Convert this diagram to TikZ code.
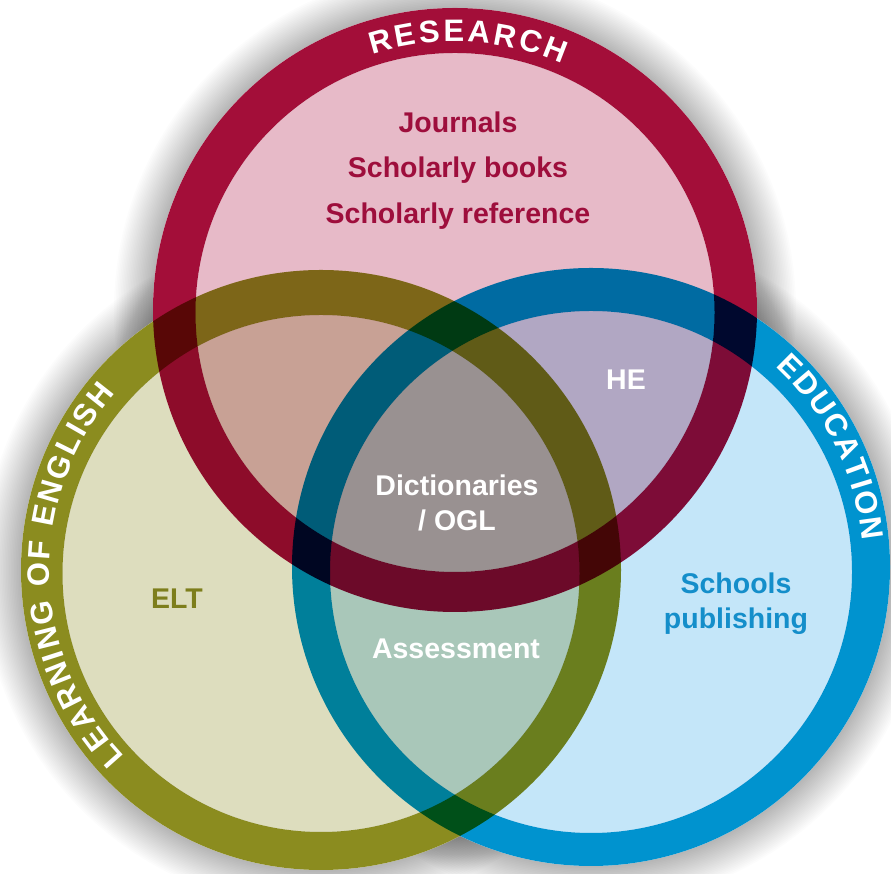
\documentclass[tikz,border=0pt]{standalone}
\usepackage{fontspec}
\setmainfont{Liberation Sans}
\usetikzlibrary{calc}
\definecolor{redring}{RGB}{163,14,57}
\definecolor{oliring}{RGB}{139,140,31}
\definecolor{bluring}{RGB}{0,147,207}
\definecolor{redin}{RGB}{231,186,200}
\definecolor{oliin}{RGB}{221,221,190}
\definecolor{bluin}{RGB}{196,230,249}
\definecolor{redtxt}{RGB}{158,14,60}
\definecolor{olitxt}{RGB}{125,126,28}
\definecolor{blutxt}{RGB}{20,142,202}
\newdimen\arcw \newdimen\arctot \newdimen\arcpos \newdimen\arcsp
% #1 centre, #2 radius, #3 centre angle, #4 list letter/width (per mille em)
\newcommand\arctext[4]{%
  \global\arctot=0pt\relax
  \foreach \ch/\w in {#4}{\arcw=\w pt\arcw=0.031\arcw\global\advance\arctot by\arcw\global\advance\arctot by\arcsp}%
  \global\advance\arctot by -\arcsp
  \pgfmathsetmacro\arcstart{#3+(\arctot/2)/(#2)*180/pi}%
  \global\arcpos=0pt\relax
  \foreach \ch/\w in {#4}{%
    \arcw=\w pt\arcw=0.031\arcw
    \pgfmathsetmacro\arcang{\arcstart-(\arcpos+\arcw/2)/(#2)*180/pi}%
    \node[arcletter, rotate=\arcang-90] at ($(#1)+(\arcang:#2pt)$) {\ch};%
    \global\advance\arcpos by\arcw\global\advance\arcpos by\arcsp}%
}
\begin{document}
\begin{tikzpicture}[x=1pt,y=1pt,
  arcletter/.style={inner sep=0pt, text=white, font=\fontsize{31}{33}\selectfont\bfseries},
  lbl/.style={inner sep=0pt, anchor=base, font=\fontsize{28.5}{34}\selectfont\bfseries}]
\useasboundingbox (0,0) rectangle (891,874);
\fill[white] (0,0) rectangle (891,874);
% centres
\coordinate (cr) at (455,564);
\coordinate (cri) at (455,561.5);
\coordinate (co) at (321,304);
\coordinate (coi) at (321,300.5);
\coordinate (cb) at (591,307);
\coordinate (cbi) at (591,302);
% soft shadow
\foreach \k in {1,...,25}{
  \fill[black, opacity=0.012] (cr) circle[radius={(301+1.6*\k)*1pt}];
  \fill[black, opacity=0.012] (co) circle[radius={(299+1.6*\k)*1pt}];
  \fill[black, opacity=0.012] (cb) circle[radius={(298+1.6*\k)*1pt}];
}
\fill[white] (cr) circle (302pt) (co) circle (300pt) (cb) circle (299pt);
% circles, multiplied
\begin{scope}[blend group=multiply]
  \fill[redin] (cri) circle (259.5pt);
  \fill[oliin] (coi) circle (258.5pt);
  \fill[bluin] (cbi) circle (261pt);
  \fill[redring, even odd rule] (cr) circle (302pt) (cri) circle (259.5pt);
  \fill[oliring, even odd rule] (co) circle (300pt) (coi) circle (258.5pt);
  \fill[bluring, even odd rule] (cb) circle (299pt) (cbi) circle (261pt);
\end{scope}
% ring titles
\setlength\arcsp{3.9pt}
\arctext{cr}{279}{87.2}{R/722,E/667,S/667,E/667,A/722,R/722,C/722,H/722}
\setlength\arcsp{2.7pt}
\arctext{cb}{283}{26.4}{E/667,D/722,U/722,C/722,A/722,T/611,I/278,O/778,N/722}
\setlength\arcsp{3pt}
\arctext{co}{282}{181.4}{L/611,E/667,A/722,R/722,N/722,I/278,N/722,G/778,~/278,O/778,F/611,~/278,E/667,N/722,G/778,L/611,I/278,S/667,H/722}
% labels
\node[lbl, text=redtxt] (journals) at (458,741) {Journals};
\node[lbl, text=redtxt] (books) at (458,696) {Scholarly books};
\node[lbl, text=redtxt] (reference) at (458,650) {Scholarly reference};
\node[lbl, text=white] (he) at (626,484) {HE};
\node[lbl, text=white] (dict) at (457,378) {Dictionaries};
\node[lbl, text=white] (ogl) at (457,343) {/ OGL};
\node[lbl, text=olitxt] (elt) at (177,265) {ELT};
\node[lbl, text=blutxt] (schools) at (736,280) {Schools};
\node[lbl, text=blutxt] (publishing) at (736,245) {publishing};
\node[lbl, text=white] (assessment) at (456,215) {Assessment};
\end{tikzpicture}
\end{document}
